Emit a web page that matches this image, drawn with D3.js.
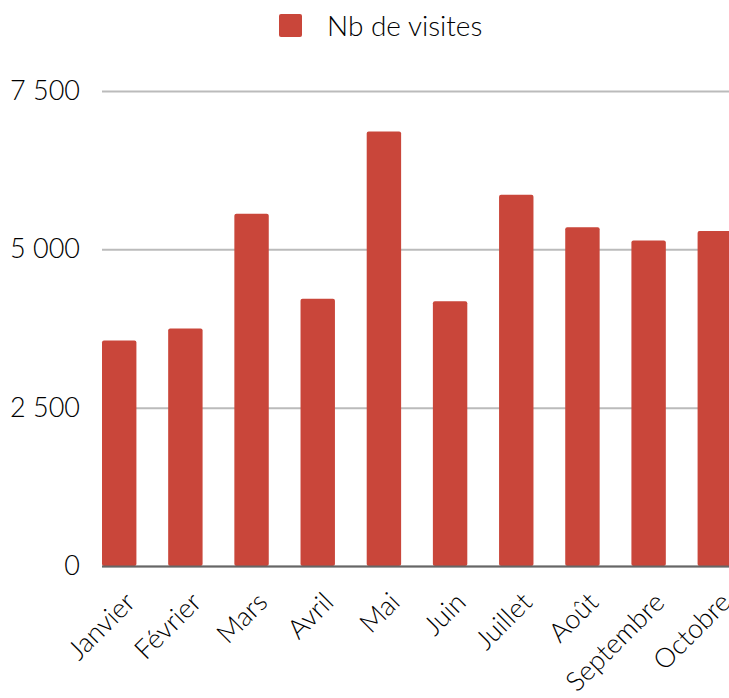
<!DOCTYPE html>
<html>
<head>
<meta charset="utf-8">
<script src="https://cdn.jsdelivr.net/npm/d3@7"></script>
<style>
  body { margin: 0; background: #fff; }
  svg { display: block; font-family: Lato, "Open Sans", sans-serif; font-weight: 300; }
</style>
</head>
<body>
<svg id="chart" width="729" height="698"></svg>
<script>
const months = ['Janvier', 'Février', 'Mars', 'Avril', 'Mai', 'Juin', 'Juillet', 'Août', 'Septembre', 'Octobre'];
const visites = [3560, 3750, 5560, 4220, 6860, 4180, 5860, 5350, 5140, 5290];
const yTicks = [0, 2500, 5000, 7500];
const seriesName = 'Nb de visites';

const barColor = '#c9463a';
const margin = { top: 91, left: 102, bottom: 566 };

const svg = d3.select('#chart');
const width = +svg.attr('width');

const frFormat = d3.formatLocale({ decimal: ',', thousands: '\u00a0', grouping: [3], currency: ['', ' €'] }).format(',d');

const x = d3.scaleBand()
  .domain(months)
  .range([margin.left, margin.left + 630])
  .paddingInner(0.48)
  .paddingOuter(0);

const y = d3.scaleLinear()
  .domain([0, 7500])
  .range([margin.bottom, margin.top]);

// gridlines + y labels
const yAxis = svg.append('g')
  .attr('transform', 'translate(' + margin.left + ',0)')
  .call(d3.axisLeft(y).tickValues(yTicks).tickSize(-(width - margin.left)).tickPadding(22).tickFormat(frFormat));
yAxis.select('.domain').remove();
yAxis.attr('font-family', null).attr('font-size', null);
yAxis.selectAll('.tick line')
  .attr('stroke', '#bbb')
  .attr('stroke-width', 2);
yAxis.selectAll('.tick text')
  .attr('fill', '#000')
  .style('font-size', '27px');

// bars
svg.append('g')
  .selectAll('rect')
  .data(months)
  .enter()
  .append('rect')
  .attr('x', d => x(d))
  .attr('y', (d, i) => y(visites[i]))
  .attr('width', x.bandwidth())
  .attr('height', (d, i) => y(0) - y(visites[i]))
  .attr('rx', 2)
  .attr('fill', barColor);

// baseline
svg.append('line')
  .attr('x1', margin.left)
  .attr('x2', width)
  .attr('y1', y(0) + 0.5)
  .attr('y2', y(0) + 0.5)
  .attr('stroke', '#666')
  .attr('stroke-width', 2);

// x labels
svg.append('g')
  .selectAll('text')
  .data(months)
  .enter()
  .append('text')
  .attr('transform', d => 'translate(' + (x(d) + x.bandwidth() / 2 + 17.5) + ',604) rotate(-45)')
  .attr('text-anchor', 'end')
  .style('font-size', '27px')
  .text(d => d);

// legend
const legend = svg.append('g');
legend.append('rect')
  .attr('x', 279)
  .attr('y', 14)
  .attr('width', 23)
  .attr('height', 23)
  .attr('rx', 2)
  .attr('fill', barColor);
legend.append('text')
  .attr('x', 327)
  .attr('y', 36)
  .style('font-size', '28px')
  .text(seriesName);
</script>
</body>
</html>
